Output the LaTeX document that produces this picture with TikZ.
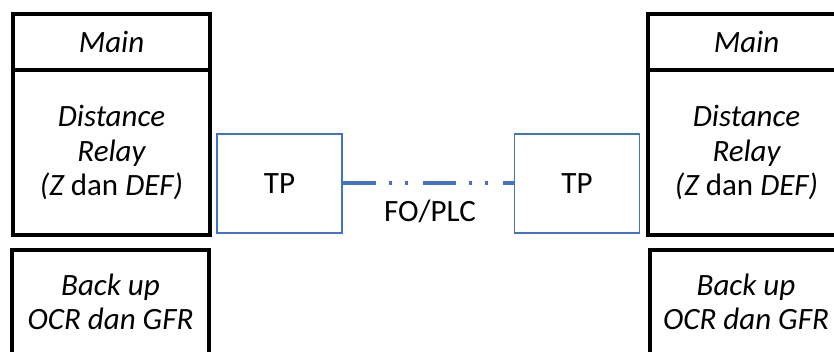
\documentclass[tikz,border=0pt]{standalone}
\usepackage{fontspec}
\setmainfont{Carlito}
\definecolor{linkblue}{HTML}{4472C4}
\tikzset{
	relaybox/.style={draw,line width=4pt,inner sep=0pt,align=center,font=\fontsize{31}{34.5}\selectfont\itshape},
	tpbox/.style={draw=linkblue,line width=1.2pt,inner sep=0pt,minimum width=125pt,minimum height=99pt,font=\fontsize{31}{34.5}\selectfont},
}
\begin{document}
\begin{tikzpicture}[x=1pt,y=-1pt]
		\clip (0,0) rectangle (834,352);
		\coordinate (ML) at (111.5,42);
		\coordinate (DL) at (111.5,152.5);
		\coordinate (BL) at (110.5,302);
		\coordinate (MR) at (746.5,42);
		\coordinate (DR) at (746.5,152.5);
		\coordinate (BR) at (746,302);
		\coordinate (TL) at (279.5,183.5);
		\coordinate (TR) at (577,183.5);
		% left side
		\node [relaybox,minimum width=197pt,minimum height=56pt] (mainL) at (ML) {Main};
		\node [relaybox,minimum width=197pt,minimum height=165pt] (relayL) at (DL) {Distance\\Relay\\(Z {\upshape dan} DEF)};
		\node [relaybox,minimum width=197pt,minimum height=104pt] (backL) at (BL) {Back up\\OCR dan GFR};
		% right side
		\node [relaybox,minimum width=197pt,minimum height=56pt] (mainR) at (MR) {Main};
		\node [relaybox,minimum width=197pt,minimum height=165pt] (relayR) at (DR) {Distance\\Relay\\(Z {\upshape dan} DEF)};
		\node [relaybox,minimum width=192pt,minimum height=104pt] (backR) at (BR) {Back up\\OCR dan GFR};
		% teleproteksi
		\node [tpbox] (tpL) at (TL) {TP};
		\node [tpbox] (tpR) at (TR) {TP};
		\draw [linkblue,line width=4pt,dash pattern=on 33pt off 13pt on 3pt off 13pt on 3pt off 15pt] (tpL.east) to (tpR.west);
		\node [font=\fontsize{31}{34.5}\selectfont] (link) at (430,211) {FO/PLC};
	\end{tikzpicture}
\end{document}
